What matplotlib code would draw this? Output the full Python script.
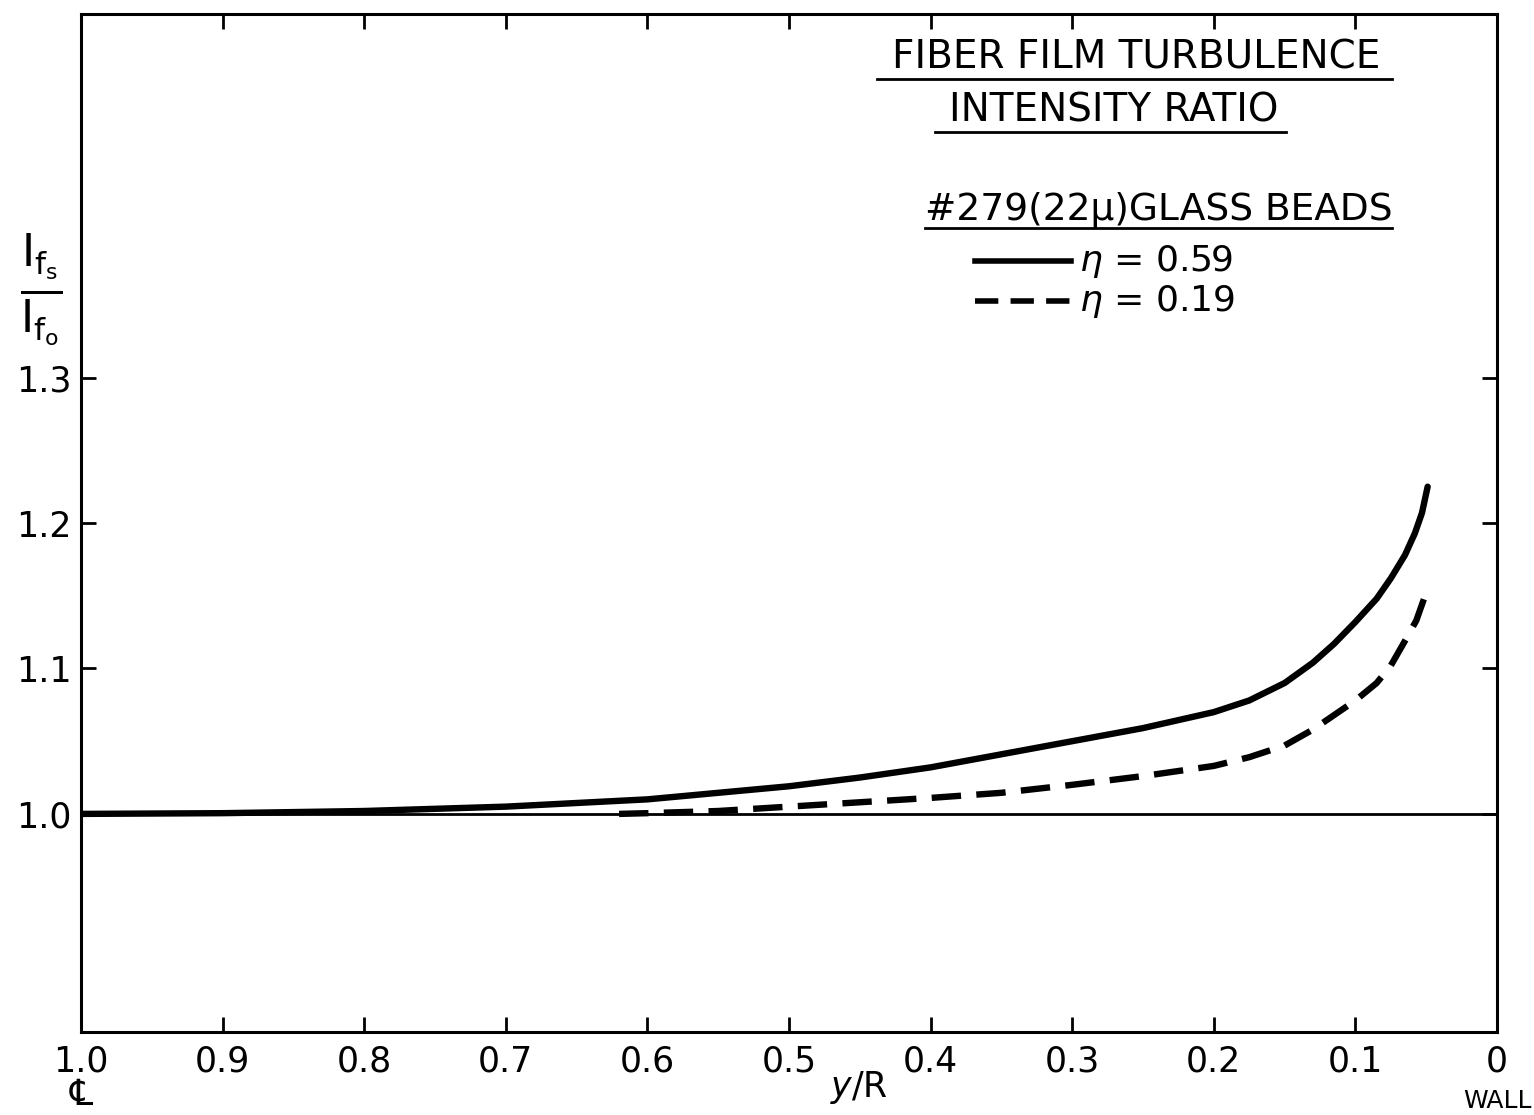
# -*- coding: utf-8 -*-
"""
Fiber film turbulence intensity ratio vs y/R
#279 (22 micron) glass beads, two loadings
"""
import numpy as np
import matplotlib.pyplot as plt
from matplotlib.lines import Line2D

# ========== Data ==========
# eta = 0.59 (solid)
yR_059 = [1.0, 0.9, 0.8, 0.7, 0.6, 0.5, 0.45, 0.4, 0.35, 0.3, 0.25, 0.2, 0.175,
          0.15, 0.13, 0.115, 0.1, 0.085, 0.075, 0.065, 0.058, 0.053, 0.049]
ratio_059 = [1.000, 1.0005, 1.002, 1.005, 1.010, 1.019, 1.025, 1.032, 1.041, 1.050,
             1.059, 1.070, 1.078, 1.090, 1.104, 1.117, 1.132, 1.148, 1.162, 1.178,
             1.193, 1.207, 1.225]

# eta = 0.19 (dashed)
yR_019 = [0.62, 0.6, 0.55, 0.5, 0.45, 0.4, 0.35, 0.3, 0.25, 0.2, 0.175, 0.15,
          0.13, 0.115, 0.1, 0.085, 0.075, 0.065, 0.057, 0.049]
ratio_019 = [1.000, 1.0005, 1.002, 1.005, 1.008, 1.011, 1.0145, 1.020, 1.026,
             1.033, 1.039, 1.047, 1.058, 1.068, 1.078, 1.090, 1.102, 1.119,
             1.133, 1.155]

x_ticks = [1.0, 0.9, 0.8, 0.7, 0.6, 0.5, 0.4, 0.3, 0.2, 0.1, 0.0]
x_tick_labels = ['1.0', '0.9', '0.8', '0.7', '0.6', '0.5', '0.4', '0.3', '0.2', '0.1', '0']
y_ticks = [1.0, 1.1, 1.2, 1.3]
y_tick_labels = ['1.0', '1.1', '1.2', '1.3']

# ========== Figure ==========
fig = plt.figure(figsize=(15.34, 11.15), dpi=100)
ax = fig.add_axes([0.0528, 0.0744, 0.9231, 0.913])

ax.plot(yR_059, ratio_059, '-', color='black', lw=4.6, solid_capstyle='round',
        solid_joinstyle='round')
ax.plot(yR_019, ratio_019, '--', color='black', lw=4.6, dashes=(4.6, 2.4))
ax.axhline(1.0, color='black', lw=2.0)

ax.set_xlim(1.0, 0.0)
ax.set_ylim(0.85, 1.55)

ax.set_xticks(x_ticks)
ax.set_xticklabels(x_tick_labels)
ax.set_yticks(y_ticks)
ax.set_yticklabels(y_tick_labels)
ax.tick_params(direction='in', length=11, width=2, labelsize=25,
               top=True, right=True, pad=9)
ax.tick_params(axis='y', pad=7)
for s in ax.spines.values():
    s.set_linewidth(2.2)

# axis labels
fig.text(0.027, 0.74, r'$\frac{\mathrm{I}_{\mathrm{f}_\mathrm{s}}}{\mathrm{I}_{\mathrm{f}_\mathrm{o}}}$',
         fontsize=46, ha='center', va='center')
ax.text(0.529, -0.054, r'$y$/R', transform=ax.transAxes, fontsize=25,
        ha='left', va='center')
ax.text(0.0, -0.062, '\u2104', transform=ax.transAxes, fontsize=26,
        ha='center', va='center')
ax.text(1.0, -0.068, 'WALL', transform=ax.transAxes, fontsize=18,
        ha='center', va='center')

# title block
ax.text(0.745, 0.957, 'FIBER FILM TURBULENCE', transform=ax.transAxes,
        fontsize=28, ha='center', va='center')
ax.add_line(Line2D([0.562, 0.926], [0.936, 0.936], transform=ax.transAxes,
                   color='black', lw=2))
ax.text(0.729, 0.905, 'INTENSITY RATIO', transform=ax.transAxes,
        fontsize=28, ha='center', va='center')
ax.add_line(Line2D([0.603, 0.851], [0.884, 0.884], transform=ax.transAxes,
                   color='black', lw=2))
ax.text(0.926, 0.808, '#279(22\u03bc)GLASS BEADS', transform=ax.transAxes,
        fontsize=27, ha='right', va='center')
ax.add_line(Line2D([0.596, 0.926], [0.790, 0.790], transform=ax.transAxes,
                   color='black', lw=2))

# legend
ax.add_line(Line2D([0.631, 0.699], [0.757, 0.757], transform=ax.transAxes,
                   color='black', lw=4))
ax.text(0.705, 0.757, r'$\eta$ = 0.59', transform=ax.transAxes,
        fontsize=26, ha='left', va='center')
ax.add_line(Line2D([0.631, 0.699], [0.718, 0.718], transform=ax.transAxes,
                   color='black', lw=4, dashes=(4.2, 2.2)))
ax.text(0.705, 0.718, r'$\eta$ = 0.19', transform=ax.transAxes,
        fontsize=26, ha='left', va='center')

plt.savefig('out.png', dpi=100)
